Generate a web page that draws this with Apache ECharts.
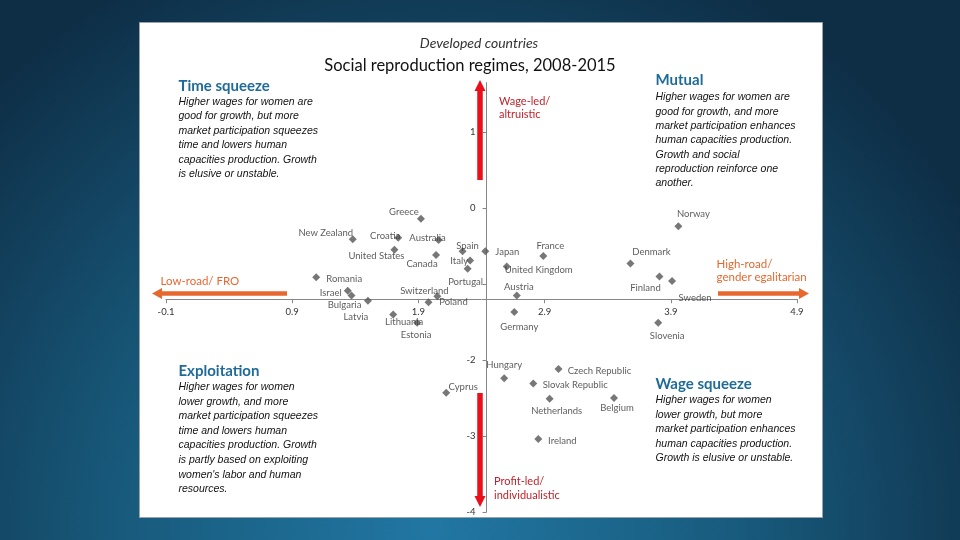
<!DOCTYPE html>
<html>
<head>
<meta charset="utf-8">
<script src="https://cdn.jsdelivr.net/npm/echarts@6/dist/echarts.min.js"></script>
<style>html,body{margin:0;padding:0;}#c{width:960px;height:540px;}</style>
</head>
<body>
<div id="c"></div>
<script>
// ---- data ----
const countries = ['Greece','New Zealand','Croatia','Australia','United States','Canada','Spain','Japan','Italy','Portugal',
  'Romania','Israel','Bulgaria','Latvia','Lithuania','Estonia','Switzerland','Poland',
  'Norway','France','United Kingdom','Denmark','Finland','Sweden','Austria','Germany','Slovenia',
  'Hungary','Czech Republic','Slovak Republic','Netherlands','Belgium','Ireland','Cyprus'];
const xValues = [1.92,1.38,1.74,2.06,1.71,2.04,2.25,2.43,2.31,2.29,
  1.09,1.34,1.37,1.50,1.70,1.89,2.05,1.98,
  3.96,2.89,2.60,3.58,3.81,3.91,2.68,2.66,3.80,
  2.58,3.01,2.81,2.94,3.45,2.85,2.12];
const yValues = [-0.14,-0.41,-0.39,-0.42,-0.55,-0.62,-0.57,-0.57,-0.69,-0.80,
  -0.91,-1.09,-1.15,-1.22,-1.40,-1.51,-1.16,-1.24,
  -0.24,-0.63,-0.77,-0.73,-0.90,-0.96,-1.15,-1.37,-1.51,
  -2.24,-2.12,-2.31,-2.51,-2.50,-3.04,-2.43];
const xAxisMin = -0.1, xAxisMax = 4.9, xAxisStep = 1;
const yAxisMin = -4, yAxisMax = 1.65, yAxisStep = 1;
const xCross = 2.44;   // where the vertical axis crosses
const yCross = -1.2;   // where the horizontal axis crosses
const hiddenYLabels = [-1];

// ---- label placement (layout only) ----
const labelOffsets = {
  'Greece':[-17,-7],'New Zealand':[-27,-6],'Croatia':[-13,-2],'Australia':[-11,-2],'United States':[-18,6],
  'Canada':[-14,9],'Spain':[5,-5],'Japan':[22,1],'Italy':[-11,0],'Portugal':[-2,13],
  'Romania':[28,2],'Israel':[-17,2],'Bulgaria':[-7,10],'Latvia':[-12,16],'Lithuania':[11,8],
  'Estonia':[-1,12],'Switzerland':[-13,-5],'Poland':[25,0],'Norway':[15,-12],'France':[7,-10],
  'United Kingdom':[32,3],'Denmark':[21,-12],'Finland':[-14,12],'Sweden':[23,17],'Austria':[2,-8],
  'Germany':[5,15],'Slovenia':[9,13],'Hungary':[0,-13],'Czech Republic':[41,2],'Slovak Republic':[42,1],
  'Netherlands':[7,12],'Belgium':[3,10],'Ireland':[24,2],'Cyprus':[17,-6]
};

const plotLeft = 166, plotRight = 797, plotBottom = 512;
const pxPerY = 76;
const plotTop = plotBottom - (yAxisMax - yAxisMin) * pxPerY;
const xPix = v => plotLeft + (v - xAxisMin) / (xAxisMax - xAxisMin) * (plotRight - plotLeft);
const yPix = v => plotBottom - (v - yAxisMin) / (yAxisMax - yAxisMin) * (plotBottom - plotTop);

const axisColor = '#878787', tickText = '#333333';
const blue = '#1F6B98', red = '#EA0F18', redText = '#C0232B', orange = '#E8672F';
const bodyFont = 'italic 10.5px "Liberation Sans", Arial, sans-serif';

const chart = echarts.init(document.getElementById('c'));

const points = countries.map((name, i) => ({
  name, value: [xValues[i], yValues[i]],
  label: { offset: labelOffsets[name] || [0, 0] }
}));

function txt(x, y, text, font, fill, align) {
  return { type: 'text', x, y, silent: true, z: 10,
    style: { text, font, fill, textAlign: align || 'left', textVerticalAlign: 'middle', verticalAlign: 'middle' } };
}
function block(x, yTitle, title, lines, yFirst, step) {
  const els = [txt(x, yTitle, title, 'bold 15px Lato, sans-serif', blue)];
  lines.forEach((l, i) => els.push(txt(x, yFirst + i * step, l, bodyFont, '#111')));
  return els;
}
function arrow(x1, y1, x2, y2, color, w, headL, headW) {
  const dx = x2 - x1, dy = y2 - y1, len = Math.hypot(dx, dy);
  const ux = dx / len, uy = dy / len, nx = -uy, ny = ux;
  const bx = x2 - ux * headL, by = y2 - uy * headL;
  return [
    { type: 'line', silent: true, z: 5, shape: { x1, y1, x2: bx, y2: by }, style: { stroke: color, lineWidth: w } },
    { type: 'polygon', silent: true, z: 5, shape: { points: [[x2, y2], [bx + nx * headW / 2, by + ny * headW / 2], [bx - nx * headW / 2, by - ny * headW / 2]] },
      style: { fill: color } }
  ];
}

const graphics = [].concat(
  [{ type: 'rect', silent: true, z: 0, shape: { x: 139.5, y: 22.5, width: 683, height: 495 },
     style: { fill: '#ffffff', stroke: '#9aa3a8', lineWidth: 1 } }],
  [txt(479, 43.5, 'Developed countries', 'italic 14px Lato, sans-serif', '#333', 'center'),
   txt(470, 65.5, 'Social reproduction regimes, 2008-2015', '16.5px Lato, sans-serif', '#111', 'center')],
  block(178.5, 86, 'Time squeeze', ['Higher wages for women are','good for growth, but more','market participation squeezes','time and lowers human','capacities production. Growth','is elusive or unstable.'], 102, 14.5),
  block(655.5, 80, 'Mutual', ['Higher wages for women are','good for growth, and more','market participation enhances','human capacities production.','Growth and social','reproduction reinforce one','another.'], 97.5, 14.3),
  block(178.5, 371.5, 'Exploitation', ['Higher wages for women','lower growth, and more','market participation squeezes','time and lowers human','capacities production. Growth','is partly based on exploiting',"women's labor and human",'resources.'], 387, 14.6),
  block(655.5, 384, 'Wage squeeze', ['Higher wages for women','lower growth, but more','market participation enhances','human capacities production.','Growth is elusive or unstable.'], 400.5, 14.4),
  [txt(499, 101, 'Wage-led/', '11px Lato, sans-serif', redText), txt(499, 114.5, 'altruistic', '11px Lato, sans-serif', redText),
   txt(494, 481.5, 'Profit-led/', '11px Lato, sans-serif', redText), txt(494, 495.5, 'individualistic', '11px Lato, sans-serif', redText),
   txt(160.5, 281.5, 'Low-road/ FRO', '11.5px Lato, sans-serif', orange),
   txt(716.5, 264, 'High-road/', '11.5px Lato, sans-serif', orange), txt(716.5, 277.5, 'gender egalitarian', '11.5px Lato, sans-serif', orange)],
  arrow(480, 180, 480, 80, red, 5.5, 11, 11),
  arrow(480, 393, 480, 507, red, 5.5, 11, 11),
  arrow(287, 293.5, 152, 293.5, orange, 4.5, 10, 11),
  arrow(718, 293.5, 809, 293.5, orange, 4.5, 10, 11)
);

const axisLbl = { color: tickText, fontSize: 9.5, fontFamily: 'Lato, sans-serif' };

chart.setOption({
  animation: false,
  backgroundColor: { type: 'radial', x: 0.45, y: 0.98, r: 1.15,
    colorStops: [{ offset: 0, color: '#2177a3' }, { offset: 0.5, color: '#185a7c' }, { offset: 1, color: '#0e2e46' }] },
  graphic: graphics,
  grid: [
    { left: plotLeft, right: 960 - plotRight, top: plotTop, bottom: 540 - plotBottom },
    { left: plotLeft, right: 960 - plotRight, top: plotTop, bottom: 540 - yPix(yCross) },
    { left: xPix(xCross), width: 60, top: plotTop, bottom: 540 - plotBottom }
  ],
  xAxis: [
    { gridIndex: 0, type: 'value', min: xAxisMin, max: xAxisMax, show: false },
    { gridIndex: 1, type: 'value', min: xAxisMin, max: xAxisMax, interval: xAxisStep, position: 'bottom',
      axisLine: { show: true, onZero: false, lineStyle: { color: axisColor, width: 1 } },
      axisTick: { show: true, length: 4, lineStyle: { color: axisColor } },
      axisLabel: Object.assign({ margin: 8, formatter: v => v.toFixed(1) }, axisLbl),
      splitLine: { show: false } },
    { gridIndex: 2, type: 'value', min: 0, max: 1, show: false }
  ],
  yAxis: [
    { gridIndex: 0, type: 'value', min: yAxisMin, max: yAxisMax, show: false },
    { gridIndex: 1, type: 'value', min: 0, max: 1, show: false },
    { gridIndex: 2, type: 'value', min: yAxisMin, max: yAxisMax, interval: yAxisStep, position: 'left',
      axisLine: { show: true, onZero: false, lineStyle: { color: axisColor, width: 1 } },
      axisTick: { show: true, length: 4, lineStyle: { color: axisColor } },
      axisLabel: Object.assign({ margin: 11, showMaxLabel: false,
        formatter: v => (hiddenYLabels.includes(v) || Math.abs(v - Math.round(v)) > 1e-6) ? '' : String(v) }, axisLbl),
      splitLine: { show: false } }
  ],
  series: [{
    type: 'scatter', xAxisIndex: 0, yAxisIndex: 0, z: 8,
    symbol: 'diamond', symbolSize: 8,
    itemStyle: { color: '#555555' },
    label: { show: true, position: 'inside', formatter: '{b}', color: '#333333', fontSize: 9.5, fontFamily: 'Lato, sans-serif' },
    data: points
  }]
});
</script>
</body>
</html>
